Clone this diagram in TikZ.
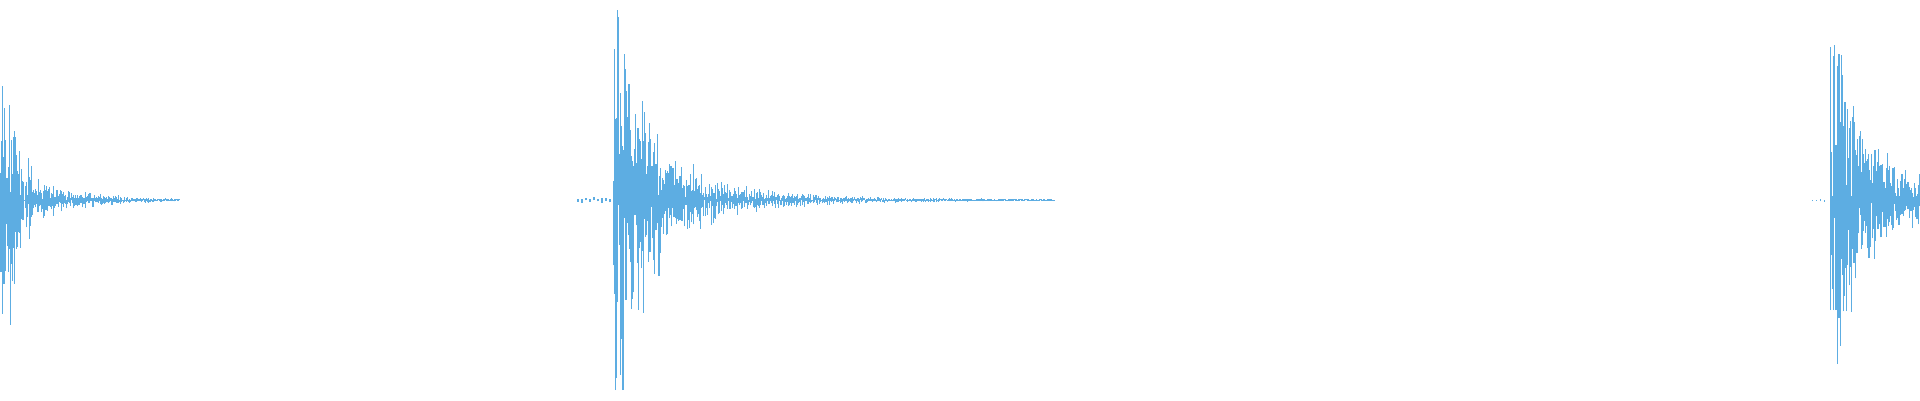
\documentclass[tikz,border=0pt]{standalone}
\definecolor{wave}{HTML}{5DADE2}
\tikzset{wv/.style={wave,line width=0.3pt}}
\begin{document}
\begin{tikzpicture}
\useasboundingbox (0,0) rectangle (19.2,4);
\pgfmathsetseed{11}
% burst 1
\foreach \x in {0.01,0.016,...,1.8}{
  \pgfmathsetmacro\a{2.4*exp(-\x/0.12)+0.4*exp(-\x/0.5)+0.01}
  \draw[wv] (\x,{2-min(1.95,\a*rnd*(0.3+0.7*rnd))}) -- (\x,{2+min(1.95,\a*rnd*(0.3+0.7*rnd))});
}
% burst 2
\foreach \x in {5.78,5.82,...,6.12}{
  \draw[wv] (\x,{2-0.03*rnd}) -- (\x,{2+0.03*rnd});
}
\foreach \x in {6.14,6.146,...,10.55}{
  \pgfmathsetmacro\a{2.3*exp(-(\x-6.14)/0.3)+0.5*exp(-(\x-6.14)/0.9)+0.01}
  \draw[wv] (\x,{2-min(1.9,\a*rnd*(0.3+0.7*rnd))}) -- (\x,{2+min(1.9,\a*rnd*(0.3+0.7*rnd))});
}
% burst 3
\foreach \x in {18.12,18.16,...,18.28}{
  \draw[wv] (\x,{2-0.02*rnd}) -- (\x,{2+0.02*rnd});
}
\foreach \x in {18.3,18.306,...,19.2}{
  \pgfmathsetmacro\a{2.4*exp(-(\x-18.3)/0.25)+0.4*exp(-(\x-18.3)/1.5)}
  \draw[wv] (\x,{2-min(1.95,\a*rnd*(0.3+0.7*rnd))}) -- (\x,{2+min(1.95,\a*rnd*(0.3+0.7*rnd))});
}
\end{tikzpicture}
\end{document}
